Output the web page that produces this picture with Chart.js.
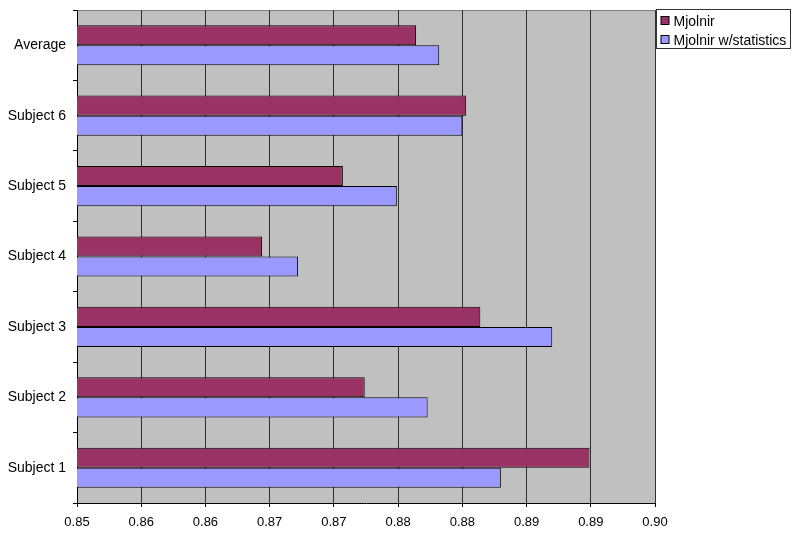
<!DOCTYPE html>
<html><head><meta charset="utf-8">
<script src="https://cdn.jsdelivr.net/npm/chart.js@4"></script>
<style>html,body{margin:0;padding:0;background:#fff}</style>
</head><body>
<canvas id="c" width="800" height="535" style="display:block"></canvas>
<script>
const categories = ['Average','Subject 6','Subject 5','Subject 4','Subject 3','Subject 2','Subject 1'];
const seriesNames = ['Mjolnir','Mjolnir w/statistics'];
const mjolnir = [0.8764,0.8803,0.8707,0.8644,0.8814,0.8724,0.8899];
const mjolnirStats = [0.8782,0.8800,0.8749,0.8672,0.8870,0.8773,0.8830];
const xTickValues = [0.850,0.855,0.860,0.865,0.870,0.875,0.880,0.885,0.890,0.895];
const xTickLabels = ['0.85','0.86','0.86','0.87','0.87','0.88','0.88','0.89','0.89','0.90'];
const seriesColors = ['#993366','#9999FF'];

const FONT = "'Liberation Sans', Arial, sans-serif";

const plotBg = {
  id: 'plotBg',
  beforeDraw(chart) {
    const {ctx, chartArea: a} = chart;
    ctx.save();
    ctx.fillStyle = '#C0C0C0';
    ctx.fillRect(a.left, a.top, a.right - a.left, a.bottom - a.top);
    ctx.strokeStyle = '#808080';
    ctx.lineWidth = 1;
    ctx.beginPath();
    ctx.moveTo(a.left, Math.round(a.top) + 0.5);
    ctx.lineTo(Math.round(a.right) + 0.5, Math.round(a.top) + 0.5);
    ctx.lineTo(Math.round(a.right) + 0.5, a.bottom);
    ctx.stroke();
    ctx.restore();
  }
};

const boxLegend = {
  id: 'boxLegend',
  afterDraw(chart) {
    const ctx = chart.ctx;
    const a = chart.chartArea;
    const x0 = Math.round(a.right) + 1.5, y0 = 9.5, w = 134, h = 39;
    ctx.save();
    ctx.fillStyle = '#fff';
    ctx.fillRect(x0, y0, w, h);
    ctx.strokeStyle = '#333';
    ctx.lineWidth = 1;
    ctx.strokeRect(x0, y0, w, h);
    ctx.font = '14px ' + FONT;
    ctx.textBaseline = 'middle';
    chart.data.datasets.forEach((ds, i) => {
      const cy = 21 + i * 19;
      ctx.fillStyle = ds.backgroundColor;
      ctx.fillRect(x0 + 4.5, cy - 4.5, 8, 8);
      ctx.strokeStyle = '#000';
      ctx.strokeRect(x0 + 4.5, cy - 4.5, 8, 8);
      ctx.fillStyle = '#000';
      ctx.fillText(ds.label, x0 + 17, cy + 1);
    });
    ctx.restore();
  }
};

new Chart(document.getElementById('c'), {
  type: 'bar',
  data: {
    labels: categories,
    datasets: [
      {label: seriesNames[0], data: mjolnir, backgroundColor: seriesColors[0], borderColor: '#000', borderWidth: 1, categoryPercentage: 0.57, barPercentage: 1},
      {label: seriesNames[1], data: mjolnirStats, backgroundColor: seriesColors[1], borderColor: '#000', borderWidth: 1, categoryPercentage: 0.57, barPercentage: 1}
    ]
  },
  options: {
    indexAxis: 'y',
    responsive: false,
    animation: false,
    devicePixelRatio: 1,
    layout: {padding: {top: 10, right: 145, left: 0, bottom: 0}},
    plugins: {legend: {display: false}, tooltip: {enabled: false}},
    scales: {
      x: {
        min: 0.85, max: 0.895,
        afterBuildTicks(scale) { scale.ticks = xTickValues.map(v => ({value: v})); },
        afterFit(scale) { scale.height = 32; scale.paddingLeft = 0; scale.paddingRight = 0; },
        ticks: {
          callback: (v, i) => xTickLabels[i],
          font: {family: FONT, size: 13}, color: '#000', padding: 8, maxRotation: 0, autoSkip: false
        },
        grid: {color: '#303030', lineWidth: 1, tickLength: 4, tickColor: '#000'},
        border: {color: '#000', width: 1}
      },
      y: {
        offset: true,
        afterFit(scale) { scale.width = 77; scale.paddingTop = 0; scale.paddingBottom = 0; },
        ticks: {font: {family: FONT, size: 14}, color: '#000', padding: 7},
        grid: {offset: true, drawOnChartArea: false, tickLength: 4, color: '#000'},
        border: {color: '#000', width: 1}
      }
    }
  },
  plugins: [plotBg, boxLegend]
});
</script>
</body></html>
